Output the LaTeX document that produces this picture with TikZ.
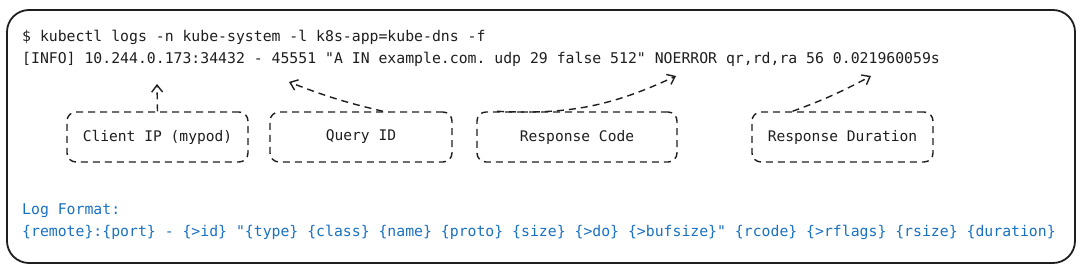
\documentclass[tikz,border=0pt]{standalone}
\usepackage{fontspec}
\setmonofont{DejaVu Sans Mono}
\usetikzlibrary{arrows.meta}
\definecolor{ink}{HTML}{1E1E1E}
\definecolor{fmtblue}{HTML}{1971C2}

\begin{document}
\begin{tikzpicture}[
  x=1pt, y=-1pt,
  every node/.style={font=\ttfamily\fontsize{14.8}{17}\selectfont, text=ink, inner sep=0pt},
  logline/.style={anchor=west},
  fmtline/.style={anchor=west, text=fmtblue},
  field/.style={draw=ink, line width=1.4pt, dash pattern=on 7pt off 5pt, rounded corners=9pt,
                minimum height=50pt, font=\ttfamily\fontsize{14.6}{17}\selectfont},
  pointer/.style={draw=ink, line width=1.4pt, dash pattern=on 7pt off 5pt,
                  -{Straight Barb[length=7pt,width=11pt,line width=1.4pt]}}
]
\useasboundingbox (0,0) rectangle (1080,272);
\draw[ink, line width=1.8pt, rounded corners=22pt] (7,10) rectangle (1075,263);

% command and one log entry
\node[logline] (cmd)  at (22,37) {\$ kubectl logs -n kube-system -l k8s-app=kube-dns -f};
\node[logline] (entry) at (22,59) {[INFO] 10.244.0.173:34432 - 45551 "A IN example.com. udp 29 false 512" NOERROR qr,rd,ra 56 0.021960059s};

\coordinate (ipmark)   at (157,84);
\coordinate (idmark)   at (289,82);
\coordinate (rcodemark) at (676,76);
\coordinate (durmark)  at (871,76);

% fields
\node[field, minimum width=181pt] (client)   at (157.5,137) {Client IP (mypod)};
\node[field, minimum width=182pt] (query)    at (361,137)   {Query ID};
\node[field, minimum width=200pt] (rcode)    at (577,137)   {Response Code};
\node[field, minimum width=181pt] (duration) at (842.5,137) {Response Duration};

\draw[pointer] (client.north) -- (ipmark);
\draw[pointer] ([xshift=22pt]query.north) to[bend left=4] (idmark);
\draw[pointer] ([xshift=-80pt]rcode.north) to[bend right=14] (rcodemark);
\draw[pointer] ([xshift=-50pt]duration.north) to[bend right=4] (durmark);

% format string
\node[fmtline] (fmthead) at (22,211) {Log Format:};
\node[fmtline] (fmtbody) at (22,232) {\{remote\}:\{port\} - \{>id\} "\{type\} \{class\} \{name\} \{proto\} \{size\} \{>do\} \{>bufsize\}" \{rcode\} \{>rflags\} \{rsize\} \{duration\}};
\end{tikzpicture}
\end{document}
